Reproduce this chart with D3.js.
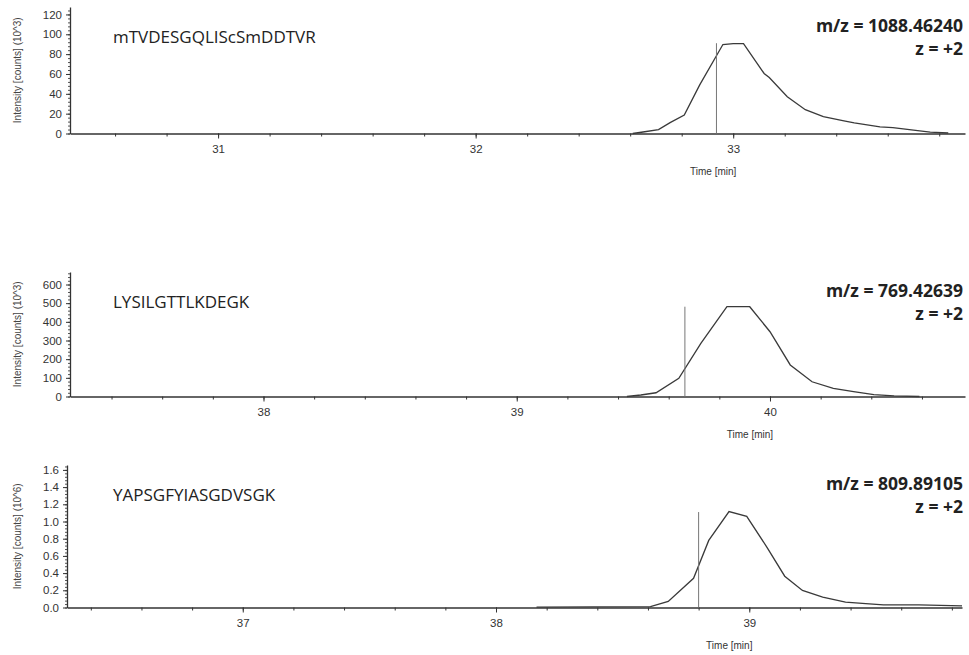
<!DOCTYPE html>
<html>
<head>
<meta charset="utf-8">
<script src="https://cdn.jsdelivr.net/npm/d3@7"></script>
<style>
  body { margin: 0; background: #fff; }
  svg { display: block; }
  .tick text { font-family: "Liberation Sans", Arial, sans-serif; font-size: 11.5px; fill: #333; }
</style>
</head>
<body>
<div id="chart"></div>
<script>
// --- data ---
var peptides = ["mTVDESGQLIScSmDDTVR", "LYSILGTTLKDEGK", "YAPSGFYIASGDVSGK"];
var mzLabels = ["m/z = 1088.46240", "m/z = 769.42639", "m/z = 809.89105"];
var chargeLabels = ["z = +2", "z = +2", "z = +2"];
var yTitles = ["Intensity [counts] (10^3)", "Intensity [counts] (10^3)", "Intensity [counts] (10^6)"];

var time1 = [32.61, 32.65, 32.71, 32.755, 32.81, 32.87, 32.96, 33.0, 33.04, 33.12, 33.14, 33.21, 33.28, 33.35, 33.43, 33.47, 33.57, 33.62, 33.70, 33.765, 33.835];
var int1  = [0, 1.5, 4, 11, 18.5, 49, 89.7, 90.5, 90.5, 60.5, 56.5, 37, 24, 17, 12.7, 10.7, 6.7, 6, 3.3, 1.3, 0.5];

var time2 = [39.435, 39.49, 39.55, 39.64, 39.727, 39.83, 39.92, 40.0, 40.08, 40.166, 40.25, 40.33, 40.41, 40.49, 40.59];
var int2  = [0, 8, 20, 97, 285, 481, 481, 347, 169, 79, 44, 26, 10, 3, 0];

var time3 = [38.16, 38.61, 38.68, 38.78, 38.84, 38.92, 38.99, 39.07, 39.14, 39.21, 39.29, 39.38, 39.46, 39.53, 39.67, 39.84];
var int3  = [0.005, 0.01, 0.07, 0.34, 0.78, 1.116, 1.06, 0.70, 0.364, 0.198, 0.12, 0.062, 0.045, 0.03, 0.03, 0.02];

// identification marker (time, height)
var markerTimes = [32.935, 39.664, 38.80];
var markerHeights = [91, 481, 1.11];

var xDomains = [[30.425, 33.9], [37.236, 40.77], [36.306, 39.84]];
var yDomains = [[0, 127.5], [0, 667], [0, 1.657]];
var yTickValues = [[0, 20, 40, 60, 80, 100, 120], [0, 100, 200, 300, 400, 500, 600], [0, 0.2, 0.4, 0.6, 0.8, 1.0, 1.2, 1.4, 1.6]];
var yMinorStep = [4, 20, 0.04];
var xTickValues = [[31, 32, 33], [38, 39, 40], [37, 38, 39]];

// --- layout ---
var width = 969, height = 655;
var panels = [
  { left: 70, right: 965, bottom: 133.5, top: 7, fmt: d3.format("d"), times: time1, ints: int1 },
  { left: 70, right: 965, bottom: 396.5, top: 272, fmt: d3.format("d"), times: time2, ints: int2 },
  { left: 67, right: 962, bottom: 607.5, top: 465, fmt: d3.format(".1f"), times: time3, ints: int3 }
];

var svg = d3.select("#chart").append("svg")
  .attr("width", width)
  .attr("height", height);

panels.forEach(function(p, i) {
  var x = d3.scaleLinear().domain(xDomains[i]).range([p.left, p.right]);
  var y = d3.scaleLinear().domain(yDomains[i]).range([p.bottom, p.top]);
  var g = svg.append("g");

  // minor ticks first
  var xMinor = d3.range(Math.ceil(xDomains[i][0] * 5) / 5, xDomains[i][1], 0.2);
  g.append("g")
    .attr("transform", "translate(0," + p.bottom + ")")
    .call(d3.axisBottom(x).tickValues(xMinor).tickSize(3).tickFormat(""))
    .call(function(a) { a.select(".domain").remove(); a.selectAll("line").attr("stroke", "#333"); });

  var yMinor = d3.range(0, yDomains[i][1], yMinorStep[i]);
  g.append("g")
    .attr("transform", "translate(" + p.left + ",0)")
    .call(d3.axisLeft(y).tickValues(yMinor).tickSize(2).tickFormat(""))
    .call(function(a) { a.select(".domain").remove(); a.selectAll("line").attr("stroke", "#555"); });

  // x axis
  g.append("g")
    .attr("transform", "translate(0," + p.bottom + ")")
    .call(d3.axisBottom(x).tickValues(xTickValues[i]).tickSize(5).tickSizeOuter(0).tickPadding(6).tickFormat(d3.format("d")))
    .call(function(a) { a.select(".domain").attr("stroke", "#333").attr("stroke-width", 1.3); a.selectAll("line").attr("stroke", "#333"); });

  // y axis
  g.append("g")
    .attr("transform", "translate(" + p.left + ",0)")
    .call(d3.axisLeft(y).tickValues(yTickValues[i]).tickSize(4).tickSizeOuter(0).tickPadding(4).tickFormat(p.fmt))
    .call(function(a) { a.select(".domain").attr("stroke", "#333").attr("stroke-width", 1.3); a.selectAll("line").attr("stroke", "#333"); });

  // axis titles
  g.append("text")
    .attr("transform", "translate(17," + ((p.top + p.bottom) / 2) + ") rotate(-90)")
    .attr("text-anchor", "middle")
    .attr("dy", "0.35em")
    .attr("style", "font-family: 'Liberation Sans', Arial, sans-serif; font-size: 10px; fill: #444")
    .text(yTitles[i]);

  g.append("text")
    .attr("x", x(xTickValues[i][2]) - 20)
    .attr("y", p.bottom + 41)
    .attr("text-anchor", "middle")
    .attr("style", "font-family: 'Liberation Sans', Arial, sans-serif; font-size: 10px; fill: #333")
    .text("Time [min]");

  // chromatogram trace
  var data = p.times.map(function(t, j) { return [t, p.ints[j]]; });
  var line = d3.line()
    .x(function(d) { return x(d[0]); })
    .y(function(d) { return y(d[1]); });
  g.append("path")
    .datum(data)
    .attr("d", line)
    .attr("fill", "none")
    .attr("stroke", "#3a3a3a")
    .attr("stroke-width", 1.3);

  // marker line
  g.append("line")
    .attr("x1", x(markerTimes[i]))
    .attr("x2", x(markerTimes[i]))
    .attr("y1", y(0))
    .attr("y2", y(markerHeights[i]))
    .attr("stroke", "#777")
    .attr("stroke-width", 1);

  // peptide label
  g.append("text")
    .attr("x", 113)
    .attr("y", p.top + 36)
    .attr("style", "font-family: 'Open Sans', sans-serif; font-size: 17px; fill: #222")
    .text(peptides[i]);

  // m/z and charge
  g.append("text")
    .attr("x", 963)
    .attr("y", p.top + 25)
    .attr("text-anchor", "end")
    .attr("style", "font-family: 'Open Sans', sans-serif; font-size: 17.5px; font-weight: bold; fill: #222")
    .text(mzLabels[i]);
  g.append("text")
    .attr("x", 963)
    .attr("y", p.top + 48)
    .attr("text-anchor", "end")
    .attr("style", "font-family: 'Open Sans', sans-serif; font-size: 17.5px; font-weight: bold; fill: #222")
    .text(chargeLabels[i]);
});
</script>
</body>
</html>
